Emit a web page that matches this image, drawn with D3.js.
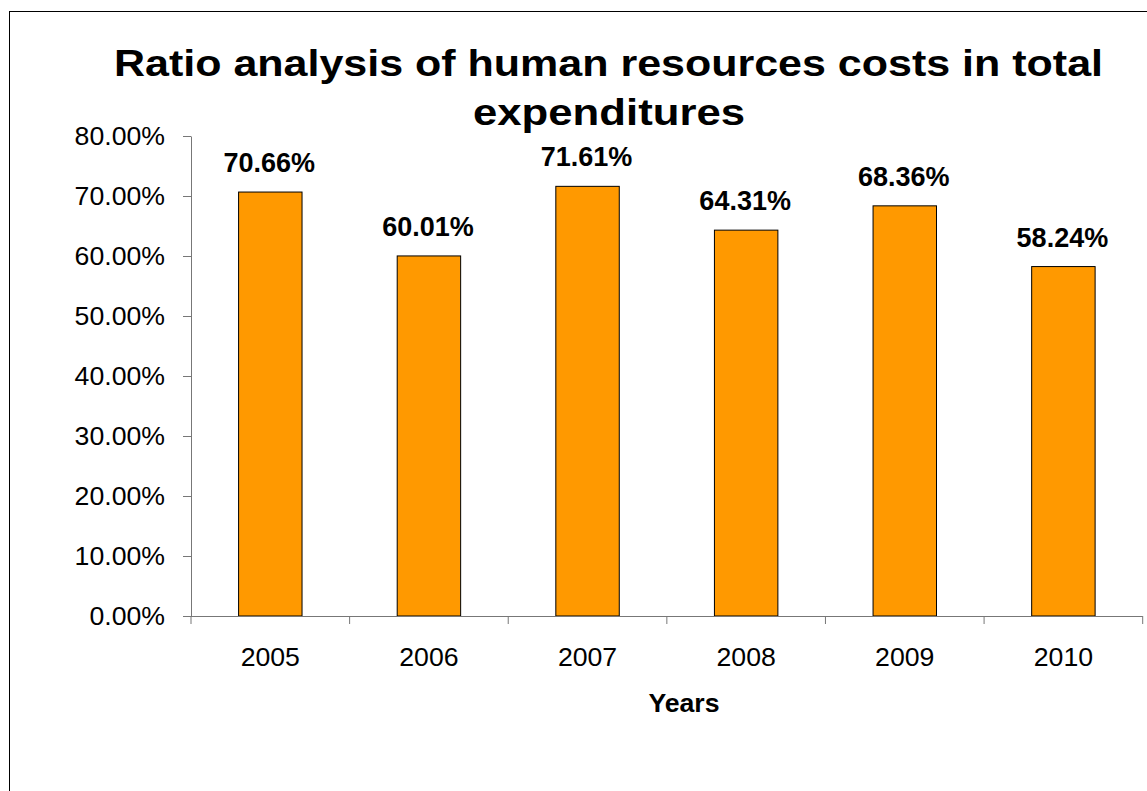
<!DOCTYPE html>
<html><head><meta charset="utf-8">
<script src="https://cdn.jsdelivr.net/npm/d3@7"></script>
<style>html,body{margin:0;padding:0;background:#fff;overflow:hidden}</style>
</head><body>
<svg id="c" width="1147" height="791"></svg>
<script>
const years = ["2005","2006","2007","2008","2009","2010"];
const values = [70.66, 60.01, 71.61, 64.31, 68.36, 58.24];
const yTicks = [0,10,20,30,40,50,60,70,80];
const titleLines = ["Ratio analysis of human resources costs in total","expenditures"];
const xTitle = "Years";

const svg = d3.select("#c");
const F = "'Liberation Sans', Arial, sans-serif";

svg.append("rect").attr("x",9.5).attr("y",11.5).attr("width",1147).attr("height",800)
  .attr("fill","#fff").attr("stroke","#000").attr("stroke-width",1);

const x0 = 191, x1 = 1142.7, yTop = 136, yBase = 616;
const x = d3.scaleBand().domain(years).range([x0,x1]).paddingInner(0).paddingOuter(0);
const y = d3.scaleLinear().domain([0,80]).range([yBase,yTop]);

// title
svg.append("text").attr("x",608.5).attr("y",76).attr("text-anchor","middle")
  .attr("font-family",F).attr("font-weight","bold").attr("font-size",36)
  .attr("textLength",989).attr("lengthAdjust","spacingAndGlyphs").text(titleLines[0]);
svg.append("text").attr("x",609).attr("y",125).attr("text-anchor","middle")
  .attr("font-family",F).attr("font-weight","bold").attr("font-size",36)
  .attr("textLength",272).attr("lengthAdjust","spacingAndGlyphs").text(titleLines[1]);

// bars
const bw = x.bandwidth()*0.4;
svg.selectAll("rect.bar").data(values).join("rect").attr("class","bar")
  .attr("x",(d,i)=>x(years[i])+x.bandwidth()/2-bw/2)
  .attr("y",d=>y(d)).attr("width",bw).attr("height",d=>yBase-y(d))
  .attr("fill","#FF9900").attr("stroke","#000").attr("stroke-width",1);

// labels
svg.selectAll("text.lbl").data(values).join("text").attr("class","lbl")
  .attr("x",(d,i)=>x(years[i])+x.bandwidth()/2-1).attr("y",d=>y(d)-20)
  .attr("text-anchor","middle").attr("font-family",F).attr("font-weight","bold")
  .attr("font-size",27).attr("fill","#000").text(d=>d.toFixed(2)+"%");

// y axis
const ya = svg.append("g").attr("transform",`translate(${x0},0)`)
  .call(d3.axisLeft(y).tickValues(yTicks).tickSize(8).tickSizeOuter(0).tickPadding(18).tickFormat(d=>d.toFixed(2)+"%"));
ya.select(".domain").attr("stroke","#777");
ya.selectAll(".tick line").attr("stroke","#777");
ya.selectAll("text").attr("font-family",F).attr("font-size",26.67).attr("fill","#000");

// x axis
svg.append("line").attr("x1",x0-8).attr("x2",x1).attr("y1",yBase+0.5).attr("y2",yBase+0.5).attr("stroke","#777");
const bounds = years.map(d=>x(d)).concat([x1]);
svg.selectAll("line.xt").data(bounds).join("line").attr("class","xt")
  .attr("x1",d=>d).attr("x2",d=>d).attr("y1",yBase).attr("y2",yBase+8).attr("stroke","#777");
svg.selectAll("text.xl").data(years).join("text").attr("class","xl")
  .attr("x",d=>x(d)+x.bandwidth()/2).attr("y",666).attr("text-anchor","middle")
  .attr("font-family",F).attr("font-size",26.67).attr("fill","#000").text(d=>d);

svg.append("text").attr("x",684).attr("y",712).attr("text-anchor","middle")
  .attr("font-family",F).attr("font-weight","bold").attr("font-size",26.67).text(xTitle);
</script>
</body></html>
